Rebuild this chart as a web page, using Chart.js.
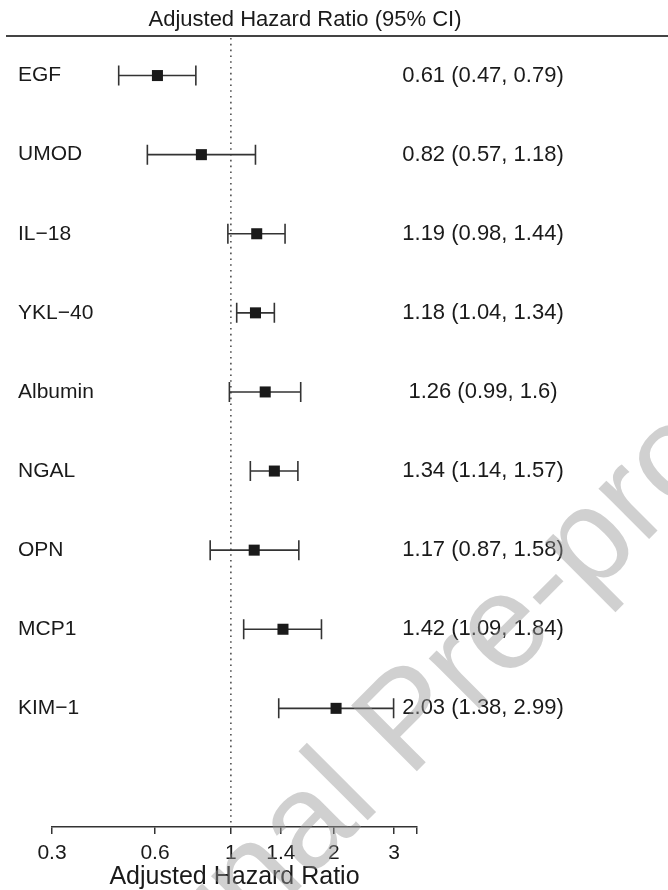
<!DOCTYPE html>
<html>
<head>
<meta charset="utf-8">
<script src="https://cdn.jsdelivr.net/npm/chart.js@4.4.1/dist/chart.umd.min.js"></script>
<style>
  html, body { margin: 0; padding: 0; background: #fff; }
  canvas { display: block; }
</style>
</head>
<body>
<canvas id="forest" width="668" height="890"></canvas>
<script>
// biomarkers, top to bottom
const rowLabels = ['EGF', 'UMOD', 'IL\u221218', 'YKL\u221240', 'Albumin', 'NGAL', 'OPN', 'MCP1', 'KIM\u22121'];
const hazardRatio = [0.61, 0.82, 1.19, 1.18, 1.26, 1.34, 1.17, 1.42, 2.03];
const ciLower = [0.47, 0.57, 0.98, 1.04, 0.99, 1.14, 0.87, 1.09, 1.38];
const ciUpper = [0.79, 1.18, 1.44, 1.34, 1.6, 1.57, 1.58, 1.84, 2.99];

// x axis ticks (last one is the unlabeled end of the axis)
const tickValues = [0.3, 0.6, 1, 1.4, 2, 3, 3.5];
const tickLabels = ['0.3', '0.6', '1', '1.4', '2', '3', ''];

const FONT = "'Liberation Sans', Arial, Helvetica, sans-serif";
const INK = '#1a1a1a';

// CI whiskers, reference line, row labels, right-hand column, header rule
const forestExtras = {
  id: 'forestExtras',
  beforeDatasetsDraw(chart) {
    const ctx = chart.ctx, x = chart.scales.x, y = chart.scales.y, area = chart.chartArea;
    ctx.save();

    // dotted line at HR = 1
    ctx.strokeStyle = '#444';
    ctx.lineWidth = 1.5;
    ctx.setLineDash([1.6, 4.2]);
    const x1 = x.getPixelForValue(1);
    ctx.beginPath();
    ctx.moveTo(x1, area.top + 2);
    ctx.lineTo(x1, area.bottom);
    ctx.stroke();
    ctx.setLineDash([]);

    // whiskers
    ctx.strokeStyle = '#333';
    ctx.lineWidth = 1.6;
    for (let i = 0; i < hazardRatio.length; i++) {
      const py = y.getPixelForValue(i + 1);
      const xl = x.getPixelForValue(ciLower[i]);
      const xh = x.getPixelForValue(ciUpper[i]);
      ctx.beginPath();
      ctx.moveTo(xl, py); ctx.lineTo(xh, py);
      ctx.moveTo(xl, py - 10); ctx.lineTo(xl, py + 10);
      ctx.moveTo(xh, py - 10); ctx.lineTo(xh, py + 10);
      ctx.stroke();
    }

    // top rule
    ctx.strokeStyle = '#444';
    ctx.lineWidth = 2;
    ctx.beginPath();
    ctx.moveTo(6, area.top);
    ctx.lineTo(chart.width, area.top);
    ctx.stroke();

    // header
    ctx.fillStyle = INK;
    ctx.font = '22px ' + FONT;
    ctx.textAlign = 'center';
    ctx.textBaseline = 'alphabetic';
    ctx.fillText('Adjusted Hazard Ratio (95% CI)', 305, 26);

    // row labels and estimates
    ctx.textBaseline = 'middle';
    for (let i = 0; i < rowLabels.length; i++) {
      const py = y.getPixelForValue(i + 1);
      ctx.font = '21px ' + FONT;
      ctx.textAlign = 'left';
      ctx.fillText(rowLabels[i], 18, py);
      ctx.font = '22px ' + FONT;
      ctx.textAlign = 'center';
      ctx.fillText(hazardRatio[i] + ' (' + ciLower[i] + ', ' + ciUpper[i] + ')', 483, py);
    }
    ctx.restore();
  },
  afterDraw(chart) {
    // the "Journal Pre-proof" watermark laid over the figure
    const ctx = chart.ctx;
    ctx.save();
    ctx.font = '135px ' + FONT;
    ctx.fillStyle = 'rgba(150,150,150,0.45)';
    ctx.textBaseline = 'alphabetic';
    ctx.textAlign = 'left';
    ctx.translate(409, 779);
    ctx.rotate(-45 * Math.PI / 180);
    ctx.fillText('Journal Pre-proof', -ctx.measureText('Journal ').width, 0);
    ctx.restore();
  }
};

new Chart(document.getElementById('forest'), {
  type: 'scatter',
  data: {
    datasets: [{
      data: hazardRatio.map((v, i) => ({ x: v, y: i + 1 })),
      pointStyle: 'rect',
      pointRadius: 7.8,
      backgroundColor: INK,
      borderWidth: 0
    }]
  },
  options: {
    responsive: false,
    animation: false,
    layout: { padding: { left: 52, right: 251, top: 36, bottom: 8 } },
    plugins: { legend: { display: false }, tooltip: { enabled: false } },
    scales: {
      x: {
        type: 'logarithmic',
        min: 0.3,
        max: 3.5,
        afterBuildTicks: (scale) => { scale.ticks = tickValues.map(v => ({ value: v })); },
        ticks: {
          callback: (value, index) => tickLabels[index],
          autoSkip: false,
          maxRotation: 0,
          padding: 9,
          color: INK,
          font: { family: FONT, size: 21, lineHeight: 1 }
        },
        grid: { drawOnChartArea: false, drawTicks: true, tickLength: 7, color: '#333', lineWidth: 1.5 },
        border: { display: true, color: '#333', width: 1.5 },
        title: {
          display: true,
          text: 'Adjusted Hazard Ratio',
          color: INK,
          font: { family: FONT, size: 25, lineHeight: 0.36 },
          padding: { top: 0, bottom: 0 }
        }
      },
      y: { type: 'linear', min: 0.5, max: 10.5, reverse: true, display: false }
    }
  },
  plugins: [forestExtras]
});
</script>
</body>
</html>
